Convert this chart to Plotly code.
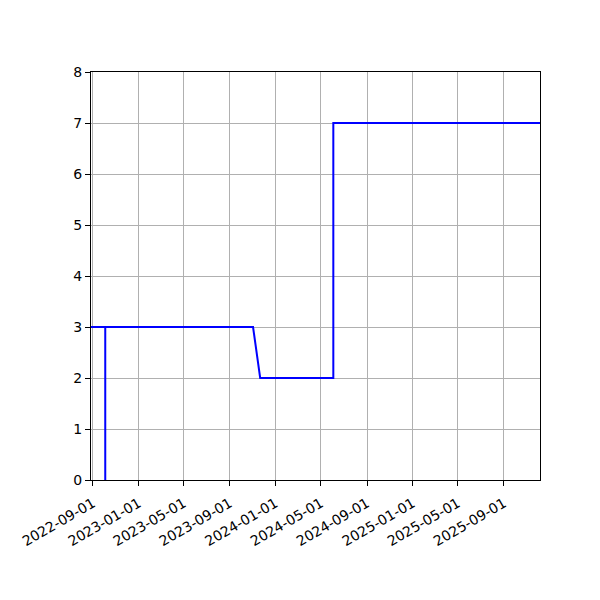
import plotly.graph_objects as go

# step data
dates = ["2022-08-01", "2022-10-04", "2022-10-04", "2022-10-04", "2023-11-02",
         "2023-11-21", "2024-06-03", "2024-06-03", "2026-01-01"]
values = [3, 3, 0, 3, 3, 2, 2, 7, 7]

tick_dates = ["2022-09-01", "2023-01-01", "2023-05-01", "2023-09-01", "2024-01-01",
              "2024-05-01", "2024-09-01", "2025-01-01", "2025-05-01", "2025-09-01"]
y_ticks = [0, 1, 2, 3, 4, 5, 6, 7, 8]

fig = go.Figure()
fig.add_trace(go.Scatter(x=dates, y=values, mode="lines",
                         line=dict(color="#0000ff", width=2), showlegend=False))

# page body has an 8px margin, so shift the plot box up/left by that much
fig.update_layout(
    width=600, height=600,
    margin=dict(l=83, r=68, t=64, b=128),
    paper_bgcolor="white", plot_bgcolor="white",
    font=dict(family="DejaVu Sans", size=14, color="black"),
)
fig.update_xaxes(
    type="date", range=["2022-08-27", "2025-12-06"],
    tickvals=tick_dates, ticktext=tick_dates, tickangle=-30,
    ticklabelstandoff=4,
    showline=True, linecolor="black", linewidth=1, mirror=True,
    ticks="outside", ticklen=5, tickcolor="black",
    showgrid=True, gridcolor="#b0b0b0", gridwidth=1, zeroline=False,
)
fig.update_yaxes(
    range=[0, 8], tickvals=y_ticks,
    showline=True, linecolor="black", linewidth=1, mirror=True,
    ticks="outside", ticklen=5, tickcolor="black",
    showgrid=True, gridcolor="#b0b0b0", gridwidth=1, zeroline=False,
)

fig.write_html("out.html")
